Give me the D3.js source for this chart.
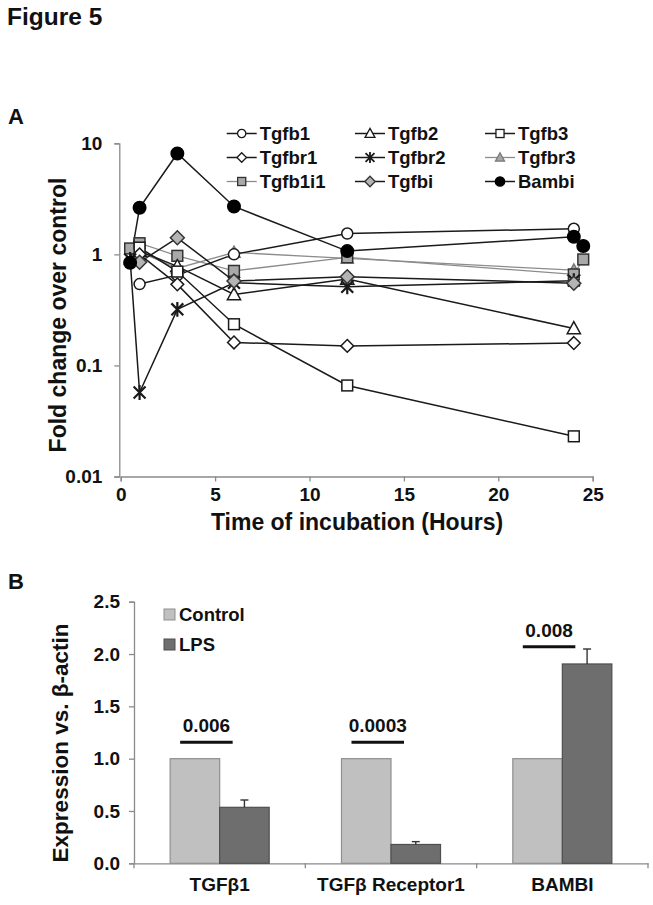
<!DOCTYPE html>
<html><head><meta charset="utf-8">
<script src="https://cdn.jsdelivr.net/npm/d3@7"></script>
<style>body{margin:0;background:#fff}svg{display:block}text{font-family:"Liberation Sans",Arial,sans-serif;font-weight:bold;fill:#111}</style>
</head><body>
<svg id="c" width="653" height="905"></svg>
<script>
// ---------- Panel A data ----------
const seriesNames = ["Tgfb1","Tgfb2","Tgfb3","Tgfbr1","Tgfbr2","Tgfbr3","Tgfb1i1","Tgfbi","Bambi"];
const hoursStd = [1, 3, 6, 12, 24];
const hoursEarly = [0.5, 1, 3, 6, 12, 24];
const hoursExt = [0.5, 1, 3, 6, 12, 24, 24.5];
const tgfb1   = [0.54, 0.65, 1.00, 1.54, 1.70];
const tgfb2   = [1.07, 0.78, 0.435, 0.60, 0.215];
const tgfb3   = [1.15, 0.70, 0.235, 0.066, 0.023];
const tgfbr1  = [1.00, 0.537, 0.161, 0.150, 0.159];
const tgfbr2  = [0.90, 0.057, 0.32, 0.555, 0.51, 0.58];
const tgfbr3  = [1.05, 0.75, 1.04, 0.92, 0.72];
const tgfb1i1 = [1.13, 1.26, 0.97, 0.71, 0.94, 0.66, 0.90];
const tgfbi   = [0.85, 1.41, 0.575, 0.63, 0.55];
const bambi   = [0.84, 2.63, 8.1, 2.7, 1.07, 1.44, 1.19];
const xTicksA = [0, 5, 10, 15, 20, 25];
const yTicksA = [0.01, 0.1, 1, 10];

// ---------- Panel B data ----------
const categoriesB = ["TGFβ1", "TGFβ Receptor1", "BAMBI"];
const groupsB = ["Control", "LPS"];
const controlVals = [1.0, 1.0, 1.0];
const lpsVals = [0.535, 0.18, 1.905];
const lpsErr = [0.07, 0.027, 0.143];
const pValues = ["0.006", "0.0003", "0.008"];
const pLineLevel = [1.156, 1.156, 2.07];
const yTicksB = [0, 0.5, 1.0, 1.5, 2.0, 2.5];

const svg = d3.select("#c");
const AX = "#8a8a8a";

svg.append("text").attr("x", 7).attr("y", 25).attr("font-size", 24.5).text("Figure 5");
svg.append("text").attr("x", 8).attr("y", 124).attr("font-size", 22).text("A");
svg.append("text").attr("x", 8).attr("y", 589).attr("font-size", 22).text("B");

// ===== Panel A =====
const xA = d3.scaleLinear().domain([0, 25]).range([120.7, 592.7]);
const yA = d3.scaleLog().domain([0.01, 10]).range([476.5, 143.3]);

const gA = svg.append("g");
const xAxA = gA.append("g").attr("transform", `translate(0,${yA(0.01)})`)
  .call(d3.axisBottom(xA).tickValues(xTicksA).tickSize(5).tickPadding(6).tickFormat(d3.format("d")));
const yAxA = gA.append("g").attr("transform", `translate(${xA(0) - 1.4},0)`)
  .call(d3.axisLeft(yA).tickValues(yTicksA).tickSize(5).tickPadding(12).tickFormat(d => String(d)));
[xAxA, yAxA].forEach(a => {
  a.select(".domain").attr("stroke", AX).attr("stroke-width", 1.3);
  a.selectAll(".tick line").attr("stroke", AX).attr("stroke-width", 1.3);
  a.selectAll(".tick text").attr("font-size", 19).attr("fill", "#111")
   .style("font-family", '"Liberation Sans",Arial,sans-serif').style("font-weight", "bold");
});
xAxA.selectAll(".tick text").attr("dy", "0.71em");

gA.append("text").attr("x", 357).attr("y", 530).attr("text-anchor", "middle").attr("font-size", 23).text("Time of incubation (Hours)");
gA.append("text").attr("transform", "translate(66,315) rotate(-90)").attr("text-anchor", "middle").attr("font-size", 23).text("Fold change over control");

// marker drawing helper
function marker(sel, kind, s) {
  const sq = s * 0.9;
  switch (kind) {
    case "circle": return sel.append("circle").attr("r", s / 2);
    case "triangle": {
      const h = s * 0.95, w = s * 1.1;
      return sel.append("path").attr("d", `M0,${-h * 0.6}L${w / 2},${h * 0.45}L${-w / 2},${h * 0.45}Z`);
    }
    case "square": return sel.append("rect").attr("x", -sq / 2).attr("y", -sq / 2).attr("width", sq).attr("height", sq);
    case "diamond": {
      const r = s * 0.58;
      return sel.append("path").attr("d", `M0,${-r}L${r},0L0,${r}L${-r},0Z`);
    }
    case "star": {
      const r = s * 0.62;
      const a = r * 0.8;
      return sel.append("path").attr("d", `M0,${-r}L0,${r}M${-a},${-a}L${a},${a}M${-a},${a}L${a},${-a}`)
        .attr("fill", "none");
    }
  }
}

const seriesA = [
  {name: "Tgfbr3",  x: hoursStd,   y: tgfbr3,  m: "triangle", fill: "#a6a6a6", line: "#8c8c8c", stroke: "#777", lw: 1.3, s: 11},
  {name: "Tgfb1i1", x: hoursExt,   y: tgfb1i1, m: "square",   fill: "#a9a9a9", line: "#8c8c8c", stroke: "#333", lw: 1.3, s: 12},
  {name: "Tgfb1",   x: hoursStd,   y: tgfb1,   m: "circle",   fill: "#fff",    line: "#1a1a1a", stroke: "#1a1a1a", lw: 1.5, s: 11},
  {name: "Tgfb2",   x: hoursStd,   y: tgfb2,   m: "triangle", fill: "#fff",    line: "#1a1a1a", stroke: "#1a1a1a", lw: 1.5, s: 12},
  {name: "Tgfb3",   x: hoursStd,   y: tgfb3,   m: "square",   fill: "#fff",    line: "#1a1a1a", stroke: "#1a1a1a", lw: 1.5, s: 12},
  {name: "Tgfbr1",  x: hoursStd,   y: tgfbr1,  m: "diamond",  fill: "#fff",    line: "#1a1a1a", stroke: "#1a1a1a", lw: 1.5, s: 11},
  {name: "Tgfbr2",  x: hoursEarly, y: tgfbr2,  m: "star",     fill: "none",    line: "#1a1a1a", stroke: "#1a1a1a", lw: 1.5, s: 12},
  {name: "Tgfbi",   x: hoursStd,   y: tgfbi,   m: "diamond",  fill: "#b4b4b4", line: "#1a1a1a", stroke: "#333", lw: 1.5, s: 12},
  {name: "Bambi",   x: hoursExt,   y: bambi,   m: "circle",   fill: "#000",    line: "#1a1a1a", stroke: "#000", lw: 1.5, s: 12.5}
];

const line = d3.line().x(d => xA(d[0])).y(d => yA(d[1]));
const plotA = gA.append("g");
seriesA.forEach(sr => {
  const pts = sr.x.map((t, i) => [t, sr.y[i]]);
  plotA.append("path").datum(pts).attr("d", line).attr("fill", "none")
    .attr("stroke", sr.line).attr("stroke-width", sr.lw);
});
seriesA.forEach(sr => {
  const pts = sr.x.map((t, i) => [t, sr.y[i]]);
  pts.forEach(p => {
    const g = plotA.append("g").attr("transform", `translate(${xA(p[0])},${yA(p[1])})`);
    marker(g, sr.m, sr.s).attr("fill", sr.fill === "none" ? "none" : sr.fill)
      .attr("stroke", sr.stroke).attr("stroke-width", sr.m === "star" ? 2.2 : 1.5);
  });
});

// legend A
const legX = [226.7, 355, 485];
const legY = [133.5, 157.5, 181.5];
const legA = gA.append("g");
seriesNames.forEach((nm, i) => {
  const sr = seriesA.find(s => s.name === nm);
  const col = i % 3, row = Math.floor(i / 3);
  const g = legA.append("g").attr("transform", `translate(${legX[col]},${legY[row]})`);
  g.append("line").attr("x1", 0).attr("x2", 30).attr("stroke", sr.line).attr("stroke-width", sr.lw);
  const mg = g.append("g").attr("transform", "translate(15,0)");
  marker(mg, sr.m, sr.s * 0.75).attr("fill", sr.fill).attr("stroke", sr.stroke)
    .attr("stroke-width", sr.m === "star" ? 1.8 : 1.3);
  g.append("text").attr("x", 33).attr("y", 6.5).attr("font-size", 18.5).text(nm);
});

// ===== Panel B =====
const yB = d3.scaleLinear().domain([0, 2.5]).range([863.3, 601.7]);
const x0B = d3.scaleBand().domain(categoriesB).range([134, 648]).padding(0);
const x1B = d3.scaleBand().domain(groupsB).range([0, x0B.bandwidth()]).paddingInner(0).paddingOuter(0.73);
const gB = svg.append("g");

const yAxB = gB.append("g").attr("transform", `translate(134,0)`)
  .call(d3.axisLeft(yB).tickValues(yTicksB).tickSize(5).tickPadding(9).tickFormat(d3.format(".1f")));
const xAxB = gB.append("g").attr("transform", `translate(0,${yB(0)})`)
  .call(d3.axisBottom(x0B).tickSize(0).tickPadding(14));
[yAxB, xAxB].forEach(a => {
  a.select(".domain").attr("stroke", AX).attr("stroke-width", 1.3);
  a.selectAll(".tick line").attr("stroke", AX).attr("stroke-width", 1.3);
  a.selectAll(".tick text").attr("font-size", 19).attr("fill", "#111")
   .style("font-family", '"Liberation Sans",Arial,sans-serif').style("font-weight", "bold");
});
const bounds = categoriesB.map(c => x0B(c)).concat([x0B.range()[1]]);
gB.selectAll("line.bt").data(bounds).join("line").attr("class", "bt")
  .attr("x1", d => d).attr("x2", d => d).attr("y1", yB(0)).attr("y2", yB(0) + 5)
  .attr("stroke", AX).attr("stroke-width", 1.3);

gB.append("text").attr("transform", "translate(68,743) rotate(-90)").attr("text-anchor", "middle")
  .attr("font-size", 22.5).text("Expression vs. β-actin");

const barFill = {Control: "#c0c0c0", LPS: "#6e6e6e"};
const barStroke = {Control: "#8f8f8f", LPS: "#4f4f4f"};
categoriesB.forEach((c, i) => {
  const vals = {Control: controlVals[i], LPS: lpsVals[i]};
  groupsB.forEach(gname => {
    gB.append("rect").attr("x", x0B(c) + x1B(gname)).attr("y", yB(vals[gname]))
      .attr("width", x1B.bandwidth()).attr("height", yB(0) - yB(vals[gname]))
      .attr("fill", barFill[gname]).attr("stroke", barStroke[gname]).attr("stroke-width", 1.2);
  });
  const cx = x0B(c) + x1B("LPS") + x1B.bandwidth() / 2;
  gB.append("line").attr("x1", cx).attr("x2", cx).attr("y1", yB(lpsVals[i])).attr("y2", yB(lpsVals[i] + lpsErr[i]))
    .attr("stroke", "#333").attr("stroke-width", 1.4);
  gB.append("line").attr("x1", cx - 4).attr("x2", cx + 4).attr("y1", yB(lpsVals[i] + lpsErr[i])).attr("y2", yB(lpsVals[i] + lpsErr[i]))
    .attr("stroke", "#333").attr("stroke-width", 1.4);
  const lx1 = x0B(c) + x1B("Control") + 10, lx2 = x0B(c) + x1B("LPS") + 13;
  gB.append("line").attr("x1", lx1).attr("x2", lx2).attr("y1", yB(pLineLevel[i])).attr("y2", yB(pLineLevel[i]))
    .attr("stroke", "#111").attr("stroke-width", 3);
  gB.append("text").attr("x", (lx1 + lx2) / 2).attr("y", yB(pLineLevel[i]) - 10).attr("text-anchor", "middle")
    .attr("font-size", 19).text(pValues[i]);
});

const legB = gB.append("g");
groupsB.forEach((gname, i) => {
  const y = 609 + i * 30;
  legB.append("rect").attr("x", 164).attr("y", y).attr("width", 11).attr("height", 11)
    .attr("fill", barFill[gname]).attr("stroke", barStroke[gname]).attr("stroke-width", 1);
  legB.append("text").attr("x", 179).attr("y", y + 11.5).attr("font-size", 18.5).text(gname);
});
</script>
</body></html>
